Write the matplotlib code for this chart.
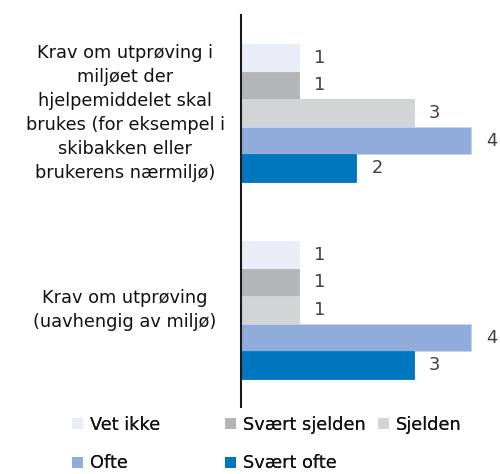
import numpy as np
import matplotlib
matplotlib.use("Agg")
import matplotlib.pyplot as plt
import matplotlib.transforms as mtransforms
from matplotlib.patches import Patch

# data
categories = ["Krav om utprøving i\nmiljøet der\nhjelpemiddelet skal\nbrukes (for eksempel i\nskibakken eller\nbrukerens nærmiljø)",
              "Krav om utprøving\n(uavhengig av miljø)"]
series = ["Vet ikke", "Svært sjelden", "Sjelden", "Ofte", "Svært ofte"]
values = {
    "Vet ikke":      [1, 1],
    "Svært sjelden": [1, 1],
    "Sjelden":       [3, 1],
    "Ofte":          [4, 4],
    "Svært ofte":    [2, 3],
}
colors = {
    "Vet ikke":      "#E9EDF8",
    "Svært sjelden": "#B4B5B6",
    "Sjelden":       "#D3D4D5",
    "Ofte":          "#8FACDB",
    "Svært ofte":    "#0076BE",
}

plt.rcParams["font.family"] = ["DejaVu Sans"]
fs = 12.8

fig = plt.figure(figsize=(5.0, 4.74), dpi=100)
ax = fig.add_axes([241/500, 67/474, 259/500, 392/474])

y = np.arange(len(categories))
h = 0.14
for i, s in enumerate(series):
    ypos = y + (i - 2) * h
    bars = ax.barh(ypos, values[s], height=h, color=colors[s],
                   edgecolor="#C5D3EE" if s == "Ofte" else colors[s], linewidth=0.6)
    for b, v in zip(bars, values[s]):
        ax.annotate(str(v), (b.get_width(), b.get_y() + b.get_height()/2),
                    xytext=(11, 0), textcoords="offset points",
                    ha="left", va="center", fontsize=fs, color="#404040")

ax.set_xlim(0, 4.5)
ax.set_ylim(1.492, -0.497)
ax.set_xticks([])
ax.set_yticks(y)
ax.set_yticklabels(categories, ha="center", fontsize=fs, color="#111111", linespacing=1.44)
ax.tick_params(axis="y", length=0, pad=83.5)
# nudge the category labels up a little
shift = mtransforms.ScaledTranslation(0, 5/100, fig.dpi_scale_trans)
for lab in ax.get_yticklabels():
    lab.set_transform(lab.get_transform() + shift)
for side in ["top", "right", "bottom"]:
    ax.spines[side].set_visible(False)
ax.spines["left"].set_color("#1a1a1a")
ax.spines["left"].set_linewidth(1.5)

# legend in three fixed-width columns
columns = [["Vet ikke", "Ofte"], ["Svært sjelden", "Svært ofte"], ["Sjelden"]]
col_x = [72, 225, 378]
for names, x0 in zip(columns, col_x):
    handles = [Patch(facecolor=colors[n], edgecolor="none") for n in names]
    leg = fig.legend(handles, names, loc="upper left",
                     bbox_to_anchor=(x0/500, 1 - 416/474), frameon=False,
                     fontsize=fs, borderpad=0, borderaxespad=0,
                     handlelength=0.6, handleheight=0.6, handletextpad=0.4,
                     labelspacing=1.15)
    for t in leg.get_texts():
        t.set_color("#111111")
    fig.add_artist(leg)

fig.savefig("out.png", dpi=100)
